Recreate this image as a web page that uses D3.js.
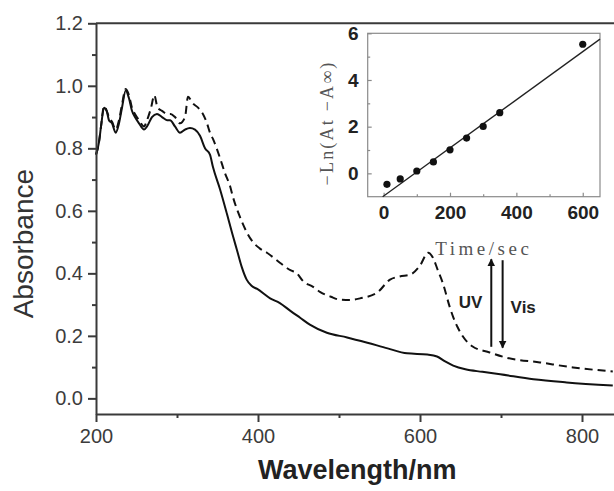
<!DOCTYPE html>
<html>
<head>
<meta charset="utf-8">
<script src="https://cdn.jsdelivr.net/npm/d3@7"></script>
<style>
  html, body { margin: 0; padding: 0; background: #fff; }
  svg { display: block; }
  text { font-family: "Liberation Sans", Arial, sans-serif; }
</style>
</head>
<body>
<svg id="chart" width="614" height="491"></svg>
<script>
// Absorption spectra: solid = after visible light, dashed = after UV irradiation
const solidWl  = [200,203.7,206.2,209.9,213.2,216,219.8,224.3,228.4,232.1,236.7,240.7,244.4,248.1,253.1,259.3,263,269.1,275.3,281.5,287.7,291.4,297.5,303.7,309.9,316,322.2,328.4,334.6,340.7,344.4,353,361.7,369,374,380,386,392,399,415,427,440,452,464,485,510,535,560,584,609,621,631,641,656,677,699,740,781,838];
const solidAbs = [0.78,0.82,0.87,0.93,0.92,0.89,0.88,0.85,0.88,0.93,0.985,0.96,0.92,0.90,0.88,0.86,0.87,0.90,0.91,0.90,0.89,0.89,0.87,0.85,0.86,0.865,0.86,0.84,0.80,0.78,0.74,0.67,0.59,0.52,0.475,0.42,0.38,0.36,0.35,0.32,0.305,0.28,0.258,0.236,0.21,0.195,0.178,0.16,0.144,0.14,0.134,0.118,0.105,0.093,0.085,0.077,0.061,0.051,0.041];

const dashedWl  = [200,203.7,206.2,209.9,213.2,216,219.8,224.3,228.4,232.1,236.7,240.7,244.4,248.1,253.1,259.3,263,268,272,276,281.5,287.7,292,297.5,303.7,309.9,313.6,319,326,332,337,340.7,344.4,353,359.3,365.4,369,377.8,386.4,393.8,402,411,427,440,448,456,468,477,490,501,514,526,547,563,575,588,600,610,616,622,628,637,641,646,653,665,686,707,748,789,838];
const dashedAbs = [0.78,0.82,0.87,0.935,0.92,0.90,0.885,0.86,0.89,0.94,0.99,0.97,0.93,0.91,0.89,0.87,0.89,0.93,0.97,0.93,0.92,0.91,0.91,0.90,0.88,0.90,0.965,0.945,0.93,0.91,0.88,0.85,0.83,0.77,0.72,0.68,0.645,0.58,0.53,0.50,0.48,0.466,0.434,0.41,0.40,0.374,0.357,0.34,0.325,0.316,0.315,0.32,0.338,0.38,0.39,0.396,0.425,0.466,0.45,0.41,0.37,0.29,0.26,0.23,0.198,0.166,0.147,0.13,0.115,0.099,0.086];

// Main axis ticks
const mainXTicks = [200, 400, 600, 800];
const mainXMinor = [300, 500, 700];
const mainYTicks = [0.0, 0.2, 0.4, 0.6, 0.8, 1.0, 1.2];
const mainYMinor = [0.1, 0.3, 0.5, 0.7, 0.9, 1.1];

// Inset: kinetics of the fading
const timeSec = [10, 50, 100, 150, 200, 250, 300, 350, 600];
const lnVal   = [-0.47, -0.24, 0.1, 0.49, 1.01, 1.51, 2.01, 2.6, 5.53];
const fitTime = [-3, 652];
const fitVal  = [-1, 5.75];
const insetXTicks = [0, 200, 400, 600];
const insetXMinor = [100, 300, 500];
const insetYTicks = [0, 2, 4, 6];
const insetYMinor = [1, 3, 5];

// Irradiation arrows (wavelength, absorbance from -> to)
const arrowUV  = { wl: 688, from: 0.165, to: 0.445 };
const arrowVis = { wl: 702, from: 0.442, to: 0.162 };

const svg = d3.select("#chart");
const axisColor = "#3a3a3a";

// ---------- main plot ----------
const M = { left: 96, right: 614.4, top: 23.3, bottom: 414 };
const x = d3.scaleLinear().domain([200, 840]).range([M.left, M.right]);
const y = d3.scaleLinear().domain([-0.05, 1.2]).range([M.bottom, M.top]);

svg.append("defs").append("marker")
  .attr("id", "head").attr("viewBox", "0 0 10 10")
  .attr("refX", 9).attr("refY", 5)
  .attr("markerWidth", 4).attr("markerHeight", 5)
  .attr("markerUnits", "strokeWidth")
  .attr("orient", "auto")
  .append("path").attr("d", "M0,0 L10,5 L0,10 Z").attr("fill", "#111");

const line = d3.line().x(d => x(d[0])).y(d => y(d[1])).curve(d3.curveMonotoneX);

svg.append("path")
  .datum(d3.zip(dashedWl, dashedAbs))
  .attr("d", line)
  .attr("fill", "none").attr("stroke", "#111").attr("stroke-width", 2)
  .attr("stroke-dasharray", "8,5").attr("stroke-linejoin", "round");

svg.append("path")
  .datum(d3.zip(solidWl, solidAbs))
  .attr("d", line)
  .attr("fill", "none").attr("stroke", "#111").attr("stroke-width", 2)
  .attr("stroke-linejoin", "round");

function styleAxis(g) {
  g.selectAll("path, line").attr("stroke", axisColor).attr("stroke-width", 2);
  g.selectAll("text").attr("fill", "#3c3c3c").style("font-family", "Liberation Sans, Arial, sans-serif");
}

// y axis
const yAxis = svg.append("g").attr("transform", `translate(${M.left},0)`)
  .call(d3.axisLeft(y).tickValues(mainYTicks).tickFormat(d3.format(".1f"))
    .tickSize(8).tickSizeOuter(0).tickPadding(5));
yAxis.selectAll("text").attr("font-size", 20);
styleAxis(yAxis);
const yMin = svg.append("g").attr("transform", `translate(${M.left},0)`)
  .call(d3.axisLeft(y).tickValues(mainYMinor).tickFormat("").tickSize(4).tickSizeOuter(0));
yMin.select(".domain").remove();
styleAxis(yMin);

// x axis
const xAxis = svg.append("g").attr("transform", `translate(0,${M.bottom})`)
  .call(d3.axisBottom(x).tickValues(mainXTicks).tickFormat(d3.format("d"))
    .tickSize(8).tickSizeOuter(0).tickPadding(7));
xAxis.selectAll("text").attr("font-size", 20);
styleAxis(xAxis);
const xMin = svg.append("g").attr("transform", `translate(0,${M.bottom})`)
  .call(d3.axisBottom(x).tickValues(mainXMinor).tickFormat("").tickSize(4).tickSizeOuter(0));
xMin.select(".domain").remove();
styleAxis(xMin);

// top frame line
svg.append("line")
  .attr("x1", M.left).attr("x2", M.right).attr("y1", y(1.2)).attr("y2", y(1.2))
  .attr("stroke", axisColor).attr("stroke-width", 2);

// axis titles
svg.append("text")
  .attr("transform", `translate(33,${(M.top + M.bottom) / 2 + 25}) rotate(-90)`)
  .attr("text-anchor", "middle").attr("font-size", 28).attr("fill", "#333")
  .text("Absorbance");
svg.append("text")
  .attr("x", (M.left + M.right) / 2 + 2).attr("y", 479)
  .attr("text-anchor", "middle").attr("font-size", 27).attr("font-weight", "bold").attr("fill", "#222")
  .text("Wavelength/nm");

// arrows
[arrowUV, arrowVis].forEach(a => {
  svg.append("line")
    .attr("x1", x(a.wl)).attr("x2", x(a.wl))
    .attr("y1", y(a.from)).attr("y2", y(a.to))
    .attr("stroke", "#111").attr("stroke-width", 2)
    .attr("marker-end", "url(#head)");
});
svg.append("text").attr("x", x(arrowUV.wl) - 9).attr("y", 308)
  .attr("text-anchor", "end").attr("font-size", 17).attr("font-weight", "bold").attr("fill", "#222")
  .text("UV");
svg.append("text").attr("x", x(arrowVis.wl) + 8).attr("y", 312.5)
  .attr("text-anchor", "start").attr("font-size", 17).attr("font-weight", "bold").attr("fill", "#222")
  .text("Vis");

// ---------- inset ----------
const I = { left: 367.7, right: 600, top: 33.3, bottom: 196.7 };
const ix = d3.scaleLinear().domain([-48, 652]).range([I.left, I.right]);
const iy = d3.scaleLinear().domain([-1, 6]).range([I.bottom, I.top]);
const insetColor = "#8a8a8a";

svg.append("rect")
  .attr("x", I.left).attr("y", I.top)
  .attr("width", I.right - I.left).attr("height", I.bottom - I.top)
  .attr("fill", "#fff").attr("stroke", insetColor).attr("stroke-width", 1.2);

function styleInset(g) {
  g.select(".domain").remove();
  g.selectAll("line").attr("stroke", insetColor).attr("stroke-width", 1.2);
  g.selectAll("text").attr("fill", "#222").attr("font-size", 19).attr("font-weight", "bold")
    .style("font-family", "Liberation Sans, Arial, sans-serif");
}
const iyAxis = svg.append("g").attr("transform", `translate(${I.left},0)`)
  .call(d3.axisLeft(iy).tickValues(insetYTicks).tickFormat(d3.format("d")).tickSize(-4).tickPadding(9));
styleInset(iyAxis);
const iyMin = svg.append("g").attr("transform", `translate(${I.left},0)`)
  .call(d3.axisLeft(iy).tickValues(insetYMinor).tickFormat("").tickSize(-2.5));
styleInset(iyMin);
const ixAxis = svg.append("g").attr("transform", `translate(0,${I.bottom})`)
  .call(d3.axisBottom(ix).tickValues(insetXTicks).tickFormat(d3.format("d")).tickSize(-4).tickPadding(9));
styleInset(ixAxis);
const ixMin = svg.append("g").attr("transform", `translate(0,${I.bottom})`)
  .call(d3.axisBottom(ix).tickValues(insetXMinor).tickFormat("").tickSize(-2.5));
styleInset(ixMin);

// linear fit
svg.append("line")
  .attr("x1", ix(fitTime[0])).attr("y1", iy(fitVal[0]))
  .attr("x2", ix(fitTime[1])).attr("y2", iy(fitVal[1]))
  .attr("stroke", "#222").attr("stroke-width", 1.3);

// measured points
svg.append("g").selectAll("circle")
  .data(d3.zip(timeSec, lnVal))
  .join("circle")
  .attr("cx", d => ix(d[0])).attr("cy", d => iy(d[1]))
  .attr("r", 3.6).attr("fill", "#111");

// inset titles
svg.append("text")
  .attr("x", (I.left + I.right) / 2).attr("y", 255)
  .attr("text-anchor", "middle").attr("font-size", 19).attr("fill", "#555")
  .style("font-family", "Liberation Serif, serif").style("letter-spacing", "3.5px")
  .text("Time/sec");
svg.append("text")
  .attr("transform", `translate(333,123) rotate(-90)`)
  .attr("text-anchor", "middle").attr("font-size", 18).attr("fill", "#555")
  .style("font-family", "Liberation Serif, serif").style("letter-spacing", "2.2px")
  .text("\u2212Ln(At \u2212A\u221E)");
</script>
</body>
</html>
